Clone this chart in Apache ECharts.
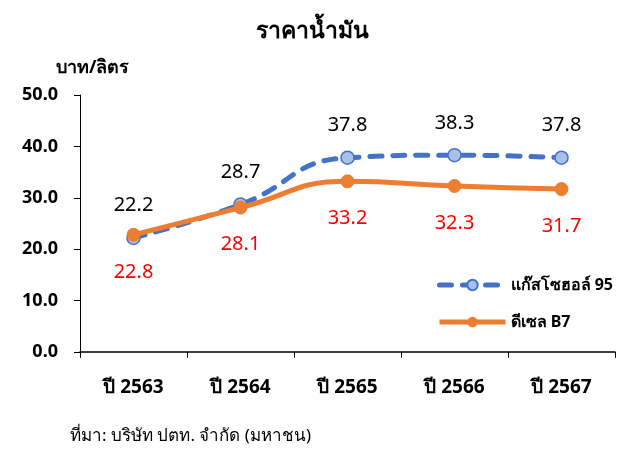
<!DOCTYPE html>
<html>
<head>
<meta charset="utf-8">
<script src="https://cdn.jsdelivr.net/npm/echarts@6/dist/echarts.min.js"></script>
<style>
  html, body { margin: 0; padding: 0; background: #fff; }
  #main { width: 624px; height: 453px; }
</style>
</head>
<body>
<div id="main"></div>
<script>
var years = ['ปี 2563', 'ปี 2564', 'ปี 2565', 'ปี 2566', 'ปี 2567'];
var gasohol95 = [22.2, 28.7, 37.8, 38.3, 37.8];
var dieselB7 = [22.8, 28.1, 33.2, 32.3, 31.7];
var yMin = 0, yMax = 50, yStep = 10;

var FONT = 'Tahoma, "Noto Sans", "DejaVu Sans", sans-serif';

var myChart = echarts.init(document.getElementById('main'));
var option = {
  backgroundColor: '#fff',
  textStyle: { fontFamily: FONT },
  title: {
    text: 'ราคาน้ำมัน',
    left: 'center',
    top: 15,
    textStyle: { fontSize: 23, fontWeight: 'bold', color: '#000', fontFamily: FONT }
  },
  graphic: [{
    type: 'text',
    left: 70,
    top: 428,
    style: { text: 'ที่มา: บริษัท ปตท. จำกัด (มหาชน)', fontSize: 17, fill: '#000', fontFamily: FONT }
  }],
  legend: {
    orient: 'vertical',
    left: 432,
    top: 272,
    itemWidth: 66,
    itemHeight: 13,
    itemGap: 21,
    lineStyle: { width: 5 },
    textStyle: { fontSize: 16, fontWeight: 'bold', color: '#000', fontFamily: FONT },
    data: ['แก๊สโซฮอล์ 95', 'ดีเซล B7']
  },
  grid: { left: 80, right: 9, top: 95, bottom: 101 },
  xAxis: {
    type: 'category',
    data: years,
    boundaryGap: true,
    axisLine: { lineStyle: { color: '#000', width: 1.5 } },
    axisTick: { show: true, length: 6, lineStyle: { color: '#000' } },
    axisLabel: { fontSize: 19, fontWeight: 'bold', color: '#000', margin: 26, fontFamily: FONT }
  },
  yAxis: {
    type: 'value',
    min: yMin,
    max: yMax,
    interval: yStep,
    name: 'บาท/ลิตร',
    nameLocation: 'end',
    nameGap: 18,
    nameTextStyle: { fontSize: 18, fontWeight: 'bold', color: '#000', align: 'left', fontFamily: FONT, padding: [0, 0, 0, -24] },
    axisLine: { show: true, lineStyle: { color: '#000', width: 1 } },
    axisTick: { show: true, length: 6, lineStyle: { color: '#000' } },
    splitLine: { show: false },
    axisLabel: {
      fontSize: 18, fontWeight: 'bold', color: '#000', margin: 22, fontFamily: FONT,
      formatter: function (v) { return v.toFixed(1); }
    }
  },
  series: [{
    name: 'แก๊สโซฮอล์ 95',
    type: 'line',
    data: gasohol95,
    smooth: 0.5,
    symbol: 'circle',
    symbolSize: 13,
    z: 2,
    lineStyle: { color: '#4472c4', width: 5, type: [12, 11], cap: 'round' },
    itemStyle: { color: '#a9c0e8', borderColor: '#4472c4', borderWidth: 1.5 },
    label: {
      show: true, position: 'top', distance: 15,
      fontSize: 20, color: '#000', fontFamily: FONT,
      formatter: function (p) { return p.value.toFixed(1); }
    }
  }, {
    name: 'ดีเซล B7',
    type: 'line',
    data: dieselB7,
    smooth: 0.5,
    symbol: 'circle',
    symbolSize: 13,
    z: 3,
    lineStyle: { color: '#ed7d31', width: 5 },
    itemStyle: { color: '#ed7d31', borderColor: '#ed7d31' },
    label: {
      show: true, position: 'bottom', distance: 20,
      fontSize: 20, color: '#ff0000', fontFamily: FONT,
      formatter: function (p) { return p.value.toFixed(1); }
    }
  }]
};
myChart.setOption(option);
</script>
</body>
</html>
